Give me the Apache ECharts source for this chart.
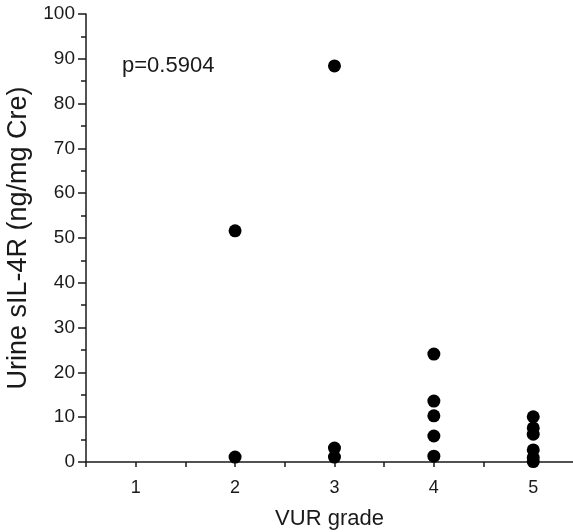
<!DOCTYPE html>
<html><head><meta charset="utf-8">
<script src="https://cdn.jsdelivr.net/npm/echarts@6/dist/echarts.min.js"></script>
<style>html,body{margin:0;padding:0;background:#fff}#c{width:573px;height:532px}</style>
</head><body><div id="c"></div>
<script>
const categories = [1, 2, 3, 4, 5];
const grade2 = [51.6, 1.1];
const grade3 = [88.4, 3.1, 1.1];
const grade4 = [24.1, 13.6, 10.3, 5.8, 1.3];
const grade5 = [10.1, 7.6, 6.2, 2.7, 1.0, 0.1];
const yTicks = [0,10,20,30,40,50,60,70,80,90,100];
const pText = 'p=0.5904';

const groups = {2: grade2, 3: grade3, 4: grade4, 5: grade5};
const pts = [];
Object.keys(groups).forEach(k => groups[k].forEach(v => pts.push([Number(k), v])));

const font = 'Liberation Sans, Arial, sans-serif';
const col = '#1a1a1a';
const chart = echarts.init(document.getElementById('c'));
chart.setOption({
  animation: false,
  grid: {left: 86, right: 0, top: 14, bottom: 70, containLabel: false, outerBoundsMode: 'none'},
  xAxis: {
    type: 'value', min: 0.5, max: 5.4, interval: 0.5,
    name: 'VUR grade', nameLocation: 'middle', nameGap: 46,
    nameTextStyle: {fontSize: 22, color: col, fontFamily: font},
    axisLine: {onZero: false, lineStyle: {color: col, width: 1.5}},
    axisTick: {show: true, inside: false, length: 5, lineStyle: {color: col, width: 1.5}},
    axisLabel: {fontSize: 18, color: col, fontFamily: font, margin: 17,
      showMaxLabel: false,
      formatter: v => categories.includes(v) ? String(v) : ''},
    splitLine: {show: false}
  },
  yAxis: {
    type: 'value', min: 0, max: 100, interval: 10,
    name: 'Urine sIL-4R (ng/mg Cre)', nameLocation: 'middle', nameGap: 50, nameRotate: 90,
    nameTextStyle: {fontSize: 27, color: col, fontFamily: font},
    axisLine: {show: true, onZero: false, lineStyle: {color: col, width: 1.5}},
    axisTick: {show: true, length: 8, lineStyle: {color: col, width: 1.5}},
    minorTick: {show: true, splitNumber: 2, length: 5, lineStyle: {color: col, width: 1.5}},
    axisLabel: {fontSize: 19, color: col, fontFamily: font, margin: 11,
      formatter: v => yTicks.includes(v) ? String(v) : ''},
    splitLine: {show: false}
  },
  graphic: [{type: 'text', left: 122, top: 55,
    style: {text: pText, fontSize: 22, fill: col, fontFamily: font}}],
  series: [{
    type: 'scatter', data: pts, symbol: 'circle', symbolSize: 13,
    itemStyle: {color: '#000', opacity: 1}
  }]
});
</script></body></html>
